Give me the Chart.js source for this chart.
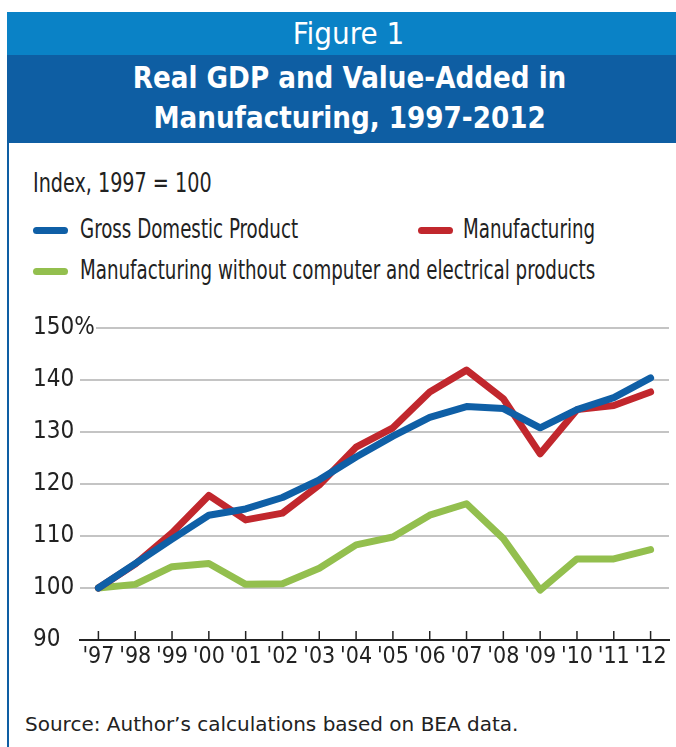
<!DOCTYPE html>
<html>
<head>
<meta charset="utf-8">
<script src="https://cdn.jsdelivr.net/npm/chart.js@4"></script>
<style>
  body { margin: 0; width: 676px; height: 747px; overflow: hidden; background: #fff; position: relative; }
  .narrow { font-family: "DejaVu Sans Condensed", "Liberation Sans Narrow", sans-serif; }
  #band1 { position: absolute; left: 7px; top: 12px; width: 669px; height: 43px; background: #0a82c6;
           color: #fff; text-align: center; font-size: 31px; line-height: 43px; padding-left: 14px; box-sizing: border-box; }
  #band2 { position: absolute; left: 7px; top: 55px; width: 669px; height: 88px; background: #0e5ea3;
           color: #fff; text-align: center; font-size: 31px; font-weight: bold; line-height: 40px; padding: 2px 0 0 16px; box-sizing: border-box; }
  #band2 span { display: inline-block; transform: scaleX(0.94); }
  #frame { position: absolute; left: 7px; top: 143px; width: 2px; height: 604px; background: #0e5ea3; }
  .sq { position: absolute; font-size: 26px; color: #222; white-space: nowrap; transform: scaleX(0.78); transform-origin: 0 50%; }
  .sw { position: absolute; left: 33px; width: 35px; height: 7px; border-radius: 4px; }
  #source { position: absolute; left: 25px; top: 712px; font-family: "DejaVu Sans", Verdana, sans-serif; font-size: 20px; color: #222; }
  #wrap { position: absolute; left: 0; top: 290px; width: 676px; height: 400px; }
</style>
</head>
<body>
<div id="band1" class="narrow">Figure 1</div>
<div id="band2" class="narrow"><span>Real GDP and Value-Added in<br>Manufacturing, 1997-2012</span></div>
<div id="frame"></div>
<div class="sq narrow" style="left:33px; top:168px; transform: scaleX(0.82)">Index, 1997 = 100</div>
<div id="legend"></div>
<div id="wrap"><canvas id="chart"></canvas></div>
<div id="source">Source: Author’s calculations based on BEA data.</div>
<script>
const years = ["'97", "'98", "'99", "'00", "'01", "'02", "'03", "'04", "'05", "'06", "'07", "'08", "'09", "'10", "'11", "'12"];
const gdp = [100, 104.7, 109.4, 114.0, 115.2, 117.4, 120.8, 125.2, 129.2, 132.8, 134.9, 134.5, 130.8, 134.3, 136.6, 140.4];
const manufacturing = [100, 104.6, 110.6, 117.8, 113.1, 114.4, 119.8, 127.1, 130.8, 137.7, 141.9, 136.4, 125.8, 134.3, 135.1, 137.7];
const mfgNoComputer = [100, 100.7, 104.1, 104.7, 100.7, 100.8, 103.8, 108.3, 109.8, 114.0, 116.2, 109.5, 99.6, 105.6, 105.6, 107.4];
const yTicks = [90, 100, 110, 120, 130, 140, 150];

const seriesNames = ["Gross Domestic Product", "Manufacturing", "Manufacturing without computer and electrical products"];
const seriesColors = ["#0f5fa6", "#c1272d", "#93bf4e"];

// legend laid out like the original (two on the first row, one below)
const legPos = [[80, 214, 33], [463, 214, 418], [80, 255, 33]];
const legend = document.getElementById("legend");
seriesNames.forEach((name, i) => {
  const sw = document.createElement("div");
  sw.className = "sw";
  sw.style.left = legPos[i][2] + "px";
  sw.style.top = (legPos[i][1] + 13) + "px";
  sw.style.background = seriesColors[i];
  legend.appendChild(sw);
  const t = document.createElement("div");
  t.className = "sq narrow";
  t.style.left = legPos[i][0] + "px";
  t.style.top = legPos[i][1] + "px";
  t.textContent = name;
  legend.appendChild(t);
});

const fontFamily = '"DejaVu Sans Condensed", "Liberation Sans Narrow", sans-serif';

// ticks pointing up from the x axis, the shortened 150% gridline and the % sign
const extras = {
  id: "extras",
  beforeDatasetsDraw(chart) {
    const { ctx, chartArea, scales } = chart;
    ctx.save();
    ctx.strokeStyle = "#c4c4c4";
    ctx.lineWidth = 2;
    const y150 = scales.y.getPixelForValue(150);
    ctx.beginPath();
    ctx.moveTo(96, y150);
    ctx.lineTo(chartArea.right, y150);
    ctx.stroke();
    ctx.strokeStyle = "#222";
    ctx.lineWidth = 1.5;
    years.forEach((_, i) => {
      const x = scales.x.getPixelForTick(i);
      ctx.beginPath();
      ctx.moveTo(x, chartArea.bottom);
      ctx.lineTo(x, chartArea.bottom - 9);
      ctx.stroke();
    });
    ctx.restore();
  },
  afterDraw(chart) {
    const { ctx, scales } = chart;
    const y = scales.y;
    ctx.save();
    ctx.font = "24px " + fontFamily;
    ctx.fillStyle = "#222";
    ctx.textBaseline = "middle";
    ctx.textAlign = "left";
    const w = ctx.measureText("150").width;
    ctx.fillText("%", y.left + w, y.getPixelForValue(150));
    ctx.restore();
  }
};

new Chart(document.getElementById("chart"), {
  type: "line",
  data: {
    labels: years,
    datasets: [gdp, manufacturing, mfgNoComputer].map((values, i) => ({
      label: seriesNames[i],
      data: values,
      borderColor: seriesColors[i],
      backgroundColor: seriesColors[i],
      borderWidth: 7,
      borderJoinStyle: "round",
      borderCapStyle: "round",
      pointRadius: 0,
      tension: 0
    }))
  },
  options: {
    responsive: true,
    maintainAspectRatio: false,
    animation: false,
    layout: { padding: { left: 33, top: 38, right: 7, bottom: 10 } },
    plugins: { legend: { display: false }, tooltip: { enabled: false } },
    scales: {
      x: {
        offset: true,
        grid: { display: false, drawTicks: false },
        border: { display: true, color: "#222", width: 2 },
        ticks: { color: "#222", padding: 3, maxRotation: 0, autoSkip: false, font: { family: fontFamily, size: 23 } },
        afterFit(scale) { scale.height = 40; }
      },
      y: {
        min: 90,
        max: 150,
        afterBuildTicks(scale) { scale.ticks = yTicks.map(v => ({ value: v })); },
        grid: {
          drawTicks: false,
          lineWidth: 2,
          color: ctx => (ctx.tick && ctx.tick.value === 150) ? "rgba(0,0,0,0)" : "#c4c4c4"
        },
        border: { display: false },
        ticks: {
          color: "#222",
          crossAlign: "far",
          font: { family: fontFamily, size: 24 }
        },
        afterFit(scale) { scale.width = 47; }
      }
    }
  },
  plugins: [extras]
});
</script>
</body>
</html>
